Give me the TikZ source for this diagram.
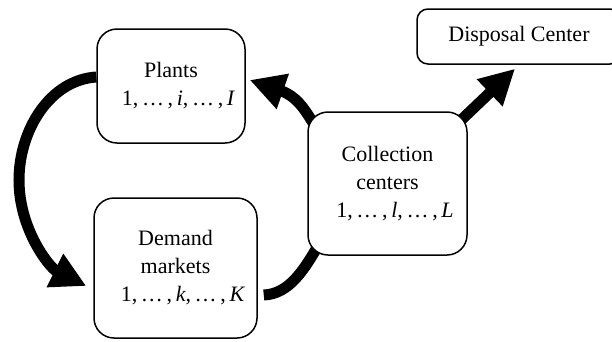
\documentclass[tikz,border=0pt]{standalone}
\usepackage{fontspec}
\setmainfont{Liberation Serif}
\usetikzlibrary{arrows.meta,backgrounds}
\tikzset{
  box/.style={draw, line width=1.5pt, fill=white, rounded corners=20pt, align=center,
    inner sep=0pt, font=\fontsize{22}{28}\selectfont},
  flow/.style={line width=11pt, -{Triangle[length=35pt,width=35pt]}},
  plainflow/.style={line width=11pt}
}
\newcommand{\idx}[2]{\hspace{15pt}1,\,…\,,\,\textit{#1},\,…\,,\,\textit{#2}}
\begin{document}
\begin{tikzpicture}[x=1pt,y=-1pt]
\useasboundingbox (0,0) rectangle (612,341);
\node[box, minimum width=148pt, minimum height=114pt] (plants) at (171,86) {Plants\\\idx{i}{I}};
\node[box, minimum width=163pt, minimum height=140pt] (demand) at (175.5,268) {Demand\\markets\\\idx{k}{K}};
\node[box, minimum width=159pt, minimum height=143pt] (coll) at (387.5,183.5) {Collection\\centers\\\idx{l}{L}};
\node[box, rounded corners=11pt, minimum width=204pt, minimum height=55pt] (disp) at (519,36.5) {Disposal Center};
\begin{scope}[on background layer]
\draw[flow] ([yshift=9pt]plants.west) .. controls (50,80) and (19,130) .. (19,180)
  .. controls (19,230) and (50,268) .. ([xshift=-7pt,yshift=-18pt]demand.west);
\draw[plainflow] ([xshift=6pt,yshift=-27pt]demand.east) .. controls (290,294) and (305,268) .. ([xshift=12pt,yshift=12pt]coll.south west);
\draw[flow] ([xshift=6pt,yshift=-12pt]coll.north west) .. controls (304,108) and (296,96) .. ([xshift=4pt,yshift=6pt]plants.east);
\draw[flow] ([xshift=-10pt,yshift=-12pt]coll.north east) -- ([xshift=-4pt,yshift=-4pt]disp.south);
\end{scope}
\end{tikzpicture}
\end{document}
